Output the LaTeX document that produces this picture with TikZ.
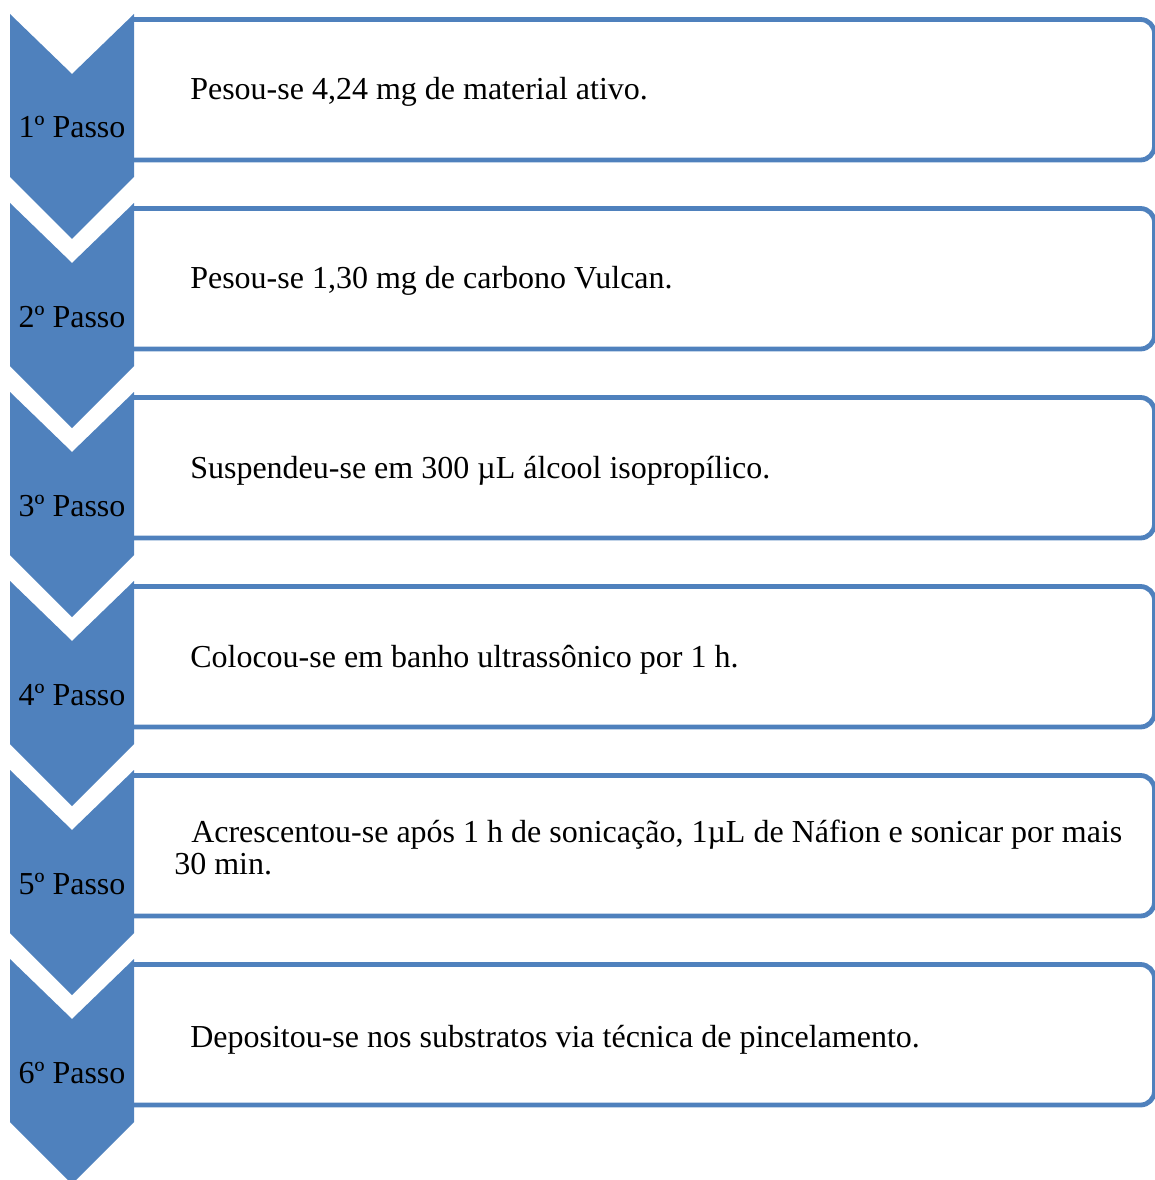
\documentclass[tikz,border=0pt]{standalone}
\usepackage{fontspec}
\setmainfont{Liberation Serif}
\definecolor{stepblue}{HTML}{4F81BD}
\begin{document}
\begin{tikzpicture}[x=0.75pt,y=-0.75pt,
  chevron/.style={fill=stepblue,draw=none},
  stepframe/.style={draw=stepblue,line width=3.6pt,rounded corners=10.5pt},
  steplabel/.style={anchor=base,inner sep=0pt,font=\fontsize{24}{24}\selectfont},
  steptext/.style={anchor=base west,inner sep=0pt,font=\fontsize{24}{24}\selectfont}]
\useasboundingbox (0,0) rectangle (1155,1180);
% frames
\begin{scope}
\clip (0,0) rectangle (1155,1180);
\foreach \k in {0,...,5}{
  \pgfmathsetmacro{\yt}{19.5+189*\k}
  \pgfmathsetmacro{\yb}{160+189*\k}
  \draw[stepframe] (134,\yt) -- (1154.5,\yt) -- (1154.5,\yb) -- (134,\yb);
}
\end{scope}
% chevrons
\foreach \k in {0,...,5}{
  \pgfmathsetmacro{\ya}{14+189*\k}
  \pgfmathsetmacro{\yn}{74+189*\k}
  \pgfmathsetmacro{\ys}{177+189*\k}
  \pgfmathsetmacro{\yp}{239+189*\k}
  \fill[chevron] (10,\ya) -- (72,\yn) -- (134,\ya) -- (134,\ys) -- (72,\yp) -- (10,\ys) -- cycle;
}
% labels
\node[steplabel] (l1) at (72,138) {1º Passo};
\node[steplabel] (l2) at (72,327) {2º Passo};
\node[steplabel] (l3) at (72,516) {3º Passo};
\node[steplabel] (l4) at (72,705) {4º Passo};
\node[steplabel] (l5) at (72,894) {5º Passo};
\node[steplabel] (l6) at (72,1083) {6º Passo};
% texts
\node[steptext] (t1) at (190,100) {Pesou-se 4,24 mg de material ativo.};
\node[steptext] (t2) at (190,289) {Pesou-se 1,30 mg de carbono Vulcan.};
\node[steptext] (t3) at (190,478) {Suspendeu-se em 300 µL álcool isopropílico.};
\node[steptext] (t4) at (190,667) {Colocou-se em banho ultrassônico por 1 h.};
\node[steptext] (t5a) at (191,842) {Acrescentou-se após 1 h de sonicação, 1µL de Náfion e sonicar por mais};
\node[steptext] (t5b) at (174,874) {30 min.};
\node[steptext] (t6) at (190,1047) {Depositou-se nos substratos via técnica de pincelamento.};
\end{tikzpicture}
\end{document}
